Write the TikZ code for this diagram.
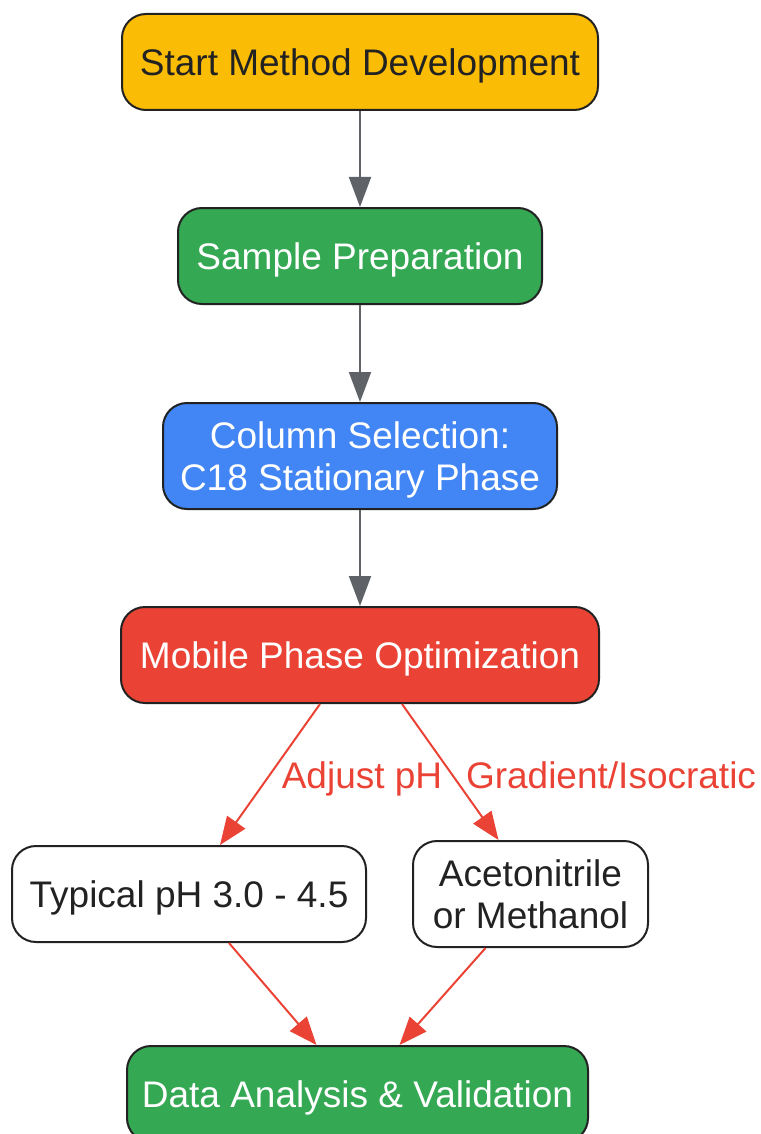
\documentclass[tikz,border=0pt]{standalone}
\usepackage{fontspec}
\setmainfont{Liberation Sans}
\usetikzlibrary{arrows.meta}
\definecolor{gyellow}{HTML}{FBBC05}
\definecolor{ggreen}{HTML}{34A853}
\definecolor{gblue}{HTML}{4285F4}
\definecolor{gred}{HTML}{EA4335}
\definecolor{dark}{HTML}{222222}
\definecolor{arrgray}{HTML}{5F6368}
\begin{document}
\begin{tikzpicture}[x=1pt,y=-1pt,
  box/.style={draw=dark,line width=2pt,rounded corners=24pt,align=center,
    font=\fontsize{37}{42}\selectfont,inner sep=0pt},
  oneline/.style={text height=26.6pt,text depth=0pt},
  twoline/.style={text height=68.6pt,text depth=0.6pt},
  garrow/.style={draw=arrgray,line width=2pt,-{Triangle[length=30pt,width=22pt]}},
  rarrow/.style={draw=gred,line width=2pt,-{Triangle[length=28pt,width=22pt]}},
  elabel/.style={text=gred,font=\fontsize{37}{42}\selectfont,inner sep=0pt,text height=26.6pt,text depth=0pt}]
\useasboundingbox (0,0) rectangle (760,1134);
\node[box,oneline,fill=gyellow,text=dark,minimum width=476pt,minimum height=96pt] (start) at (360,62) {Start Method Development};
\node[box,oneline,fill=ggreen,text=white,minimum width=364pt,minimum height=96pt] (prep) at (360,256) {Sample Preparation};
\node[box,twoline,fill=gblue,text=white,minimum width=394pt,minimum height=106pt] (col) at (360,456) {Column Selection:\\C18 Stationary Phase};
\node[box,oneline,fill=gred,text=white,minimum width=478pt,minimum height=96pt] (mob) at (360,655) {Mobile Phase Optimization};
\node[box,oneline,fill=white,text=dark,minimum width=354pt,minimum height=96pt] (ph) at (189,894) {Typical pH 3.0 - 4.5};
\node[box,twoline,fill=white,text=dark,minimum width=235pt,minimum height=106pt] (acn) at (530.5,894) {Acetonitrile\\or Methanol};
\node[box,oneline,fill=ggreen,text=white,minimum width=461pt,minimum height=96pt] (data) at (357.5,1094) {Data Analysis \& Validation};
\draw[garrow] (start) -- (prep);
\draw[garrow] (prep) -- (col);
\draw[garrow] (col) -- (mob);
\draw[rarrow] ([xshift=-40pt]mob.south) -- ([xshift=31pt]ph.north);
\draw[rarrow] ([xshift=42pt]mob.south) -- ([xshift=-32pt]acn.north);
\draw[rarrow] ([xshift=40pt]ph.south) -- ([xshift=-41pt]data.north);
\draw[rarrow] ([xshift=-45pt]acn.south) -- ([xshift=42pt]data.north);
\node[elabel] (l1) at (362,775) {Adjust pH};
\node[elabel] (l2) at (611,775) {Gradient/Isocratic};
\end{tikzpicture}
\end{document}
